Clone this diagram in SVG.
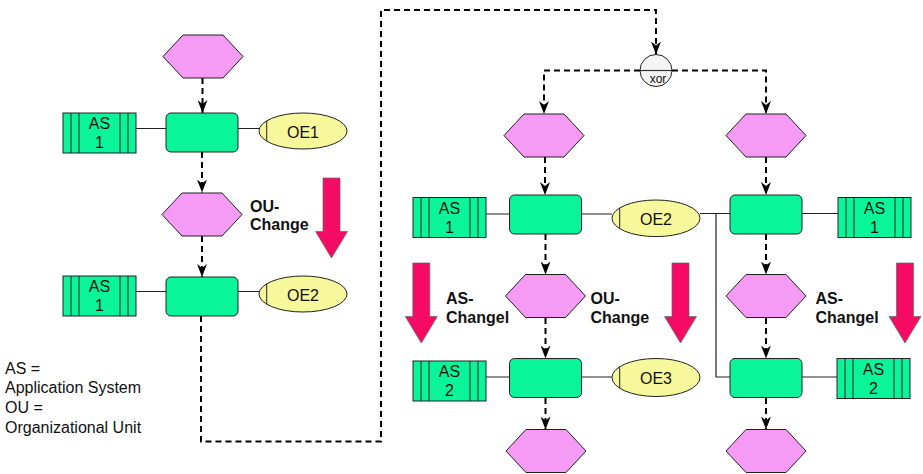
<svg xmlns="http://www.w3.org/2000/svg" xmlns:xlink="http://www.w3.org/1999/xlink" width="923" height="474" viewBox="0 0 923 474">
<style>
.hex{fill:#F59AF5;stroke:#222;stroke-width:1}
.fn{fill:#0AF59A;stroke:#222;stroke-width:1}
.as{fill:#0AF59A;stroke:#222;stroke-width:1}
.asl{stroke:#222;stroke-width:1}
.oe{fill:#F7F79C;stroke:#222;stroke-width:1}
.red{fill:#F50A64;stroke:#666;stroke-width:0.7}
.t{font-family:"Liberation Sans",Arial,sans-serif;font-size:16px;fill:#111}
.c{text-anchor:middle}
.b{font-weight:bold}
.solid{fill:none;stroke:#222;stroke-width:1.2}
.dash{fill:none;stroke:#000;stroke-width:2;stroke-dasharray:6,4;marker-end:url(#ah)}
</style>
<defs>
<marker id="ah" viewBox="0 0 13 10" refX="13" refY="5" markerWidth="13" markerHeight="10" markerUnits="userSpaceOnUse" orient="auto">
<path d="M0,0 L13,5 L0,10 L4,5 z" fill="#000"/>
</marker>
<polygon id="hexShape" class="hex" points="-40,0 -20,-21.5 20,-21.5 40,0 20,21.5 -20,21.5"/>
<polygon id="redArrow" class="red" points="-8.5,0 8.5,0 8.5,53.5 16,53.5 0,80 -16,53.5 -8.5,53.5"/>
<g id="asShape">
<rect class="as" x="0" y="0" width="73" height="40"/>
<line class="asl" x1="8" y1="0" x2="8" y2="40"/>
<line class="asl" x1="16" y1="0" x2="16" y2="40"/>
<line class="asl" x1="57" y1="0" x2="57" y2="40"/>
<line class="asl" x1="65" y1="0" x2="65" y2="40"/>
</g>
<rect id="fnShape" class="fn" x="0" y="0" width="72" height="39" rx="5"/>
</defs>
<rect width="923" height="474" fill="#fff"/>

<g id="connectors">
<path class="solid" d="M136,128.5 H166 M238,128.5 H259"/>
<path class="solid" d="M136,291.5 H166 M238,291.5 H259"/>
<path class="solid" d="M486,214 H509.5 M582,214 H612"/>
<path class="solid" d="M700,213.5 H730 M716,213.5 V377 H730 M802,213.5 H838"/>
<path class="solid" d="M486,377 H509.5 M582,377 H612 M802,377 H837"/>
<path class="dash" d="M202.5,78 V113"/>
<path class="dash" d="M202,152 V192.5"/>
<path class="dash" d="M202,236 V277"/>
<path class="dash" d="M201,316 V441.5 H381 V10 H656 V54.5"/>
<path class="dash" d="M640,70.5 H544 V114"/>
<path class="dash" d="M672,70.5 H766 V114"/>
<path class="dash" d="M545,157 V195"/>
<path class="dash" d="M545.5,234 V274.5"/>
<path class="dash" d="M545.5,318 V358.5"/>
<path class="dash" d="M545.5,398 V429.5"/>
<path class="dash" d="M766,157 V195"/>
<path class="dash" d="M766,234 V274.5"/>
<path class="dash" d="M766,318 V358.5"/>
<path class="dash" d="M766,398 V429.5"/>
</g>

<g id="evL1"><use href="#hexShape" x="203" y="56.5"/></g>
<g id="evL2"><use href="#hexShape" x="202" y="214.5"/>
<text class="t b" x="250" y="211.7">OU-</text><text class="t b" x="250" y="230">Change</text></g>
<g id="evM1"><use href="#hexShape" x="544" y="135.5"/></g>
<g id="evM2"><use href="#hexShape" x="545.5" y="296"/>
<text class="t b" x="590.5" y="304">OU-</text><text class="t b" x="590.5" y="323">Change</text></g>
<g id="evM3"><use href="#hexShape" x="546" y="451"/></g>
<g id="evR1"><use href="#hexShape" x="766" y="135.5"/></g>
<g id="evR2"><use href="#hexShape" x="766" y="296"/>
<text class="t b" x="815.5" y="304">AS-</text><text class="t b" x="815.5" y="323">Changel</text></g>
<g id="evR3"><use href="#hexShape" x="766" y="451"/></g>

<g id="fnL1"><use href="#fnShape" x="166" y="113"/></g>
<g id="fnL2"><use href="#fnShape" x="166" y="277"/></g>
<g id="fnM1"><use href="#fnShape" x="509.5" y="195"/></g>
<g id="fnM2"><use href="#fnShape" x="509.5" y="358.5"/></g>
<g id="fnR1"><use href="#fnShape" x="730" y="195"/></g>
<g id="fnR2"><use href="#fnShape" x="730" y="358.5"/></g>

<g id="asL1"><use href="#asShape" x="63" y="113"/>
<text class="t c" x="99.5" y="129">AS</text><text class="t c" x="99.5" y="148">1</text></g>
<g id="asL2"><use href="#asShape" x="63" y="276"/>
<text class="t c" x="99.5" y="292">AS</text><text class="t c" x="99.5" y="311">1</text></g>
<g id="asM1"><use href="#asShape" x="413" y="197.5"/>
<text class="t c" x="449.5" y="213.5">AS</text><text class="t c" x="449.5" y="232.5">1</text></g>
<g id="asM2"><use href="#asShape" x="413" y="361"/>
<text class="t c" x="449.5" y="377">AS</text><text class="t c" x="449.5" y="396">2</text></g>
<g id="asR1"><use href="#asShape" x="838" y="197.5"/>
<text class="t c" x="874.5" y="213.5">AS</text><text class="t c" x="874.5" y="232.5">1</text></g>
<g id="asR2"><use href="#asShape" x="837" y="358.5"/>
<text class="t c" x="873.5" y="374.5">AS</text><text class="t c" x="873.5" y="393.5">2</text></g>

<g id="oe1"><ellipse class="oe" cx="303" cy="131" rx="44" ry="18"/>
<line class="asl" x1="266.7" y1="121" x2="266.7" y2="141"/>
<text class="t c" x="303" y="137.5">OE1</text></g>
<g id="oe2L"><ellipse class="oe" cx="303" cy="294" rx="44" ry="18"/>
<line class="asl" x1="266.7" y1="284" x2="266.7" y2="304"/>
<text class="t c" x="303" y="300.5">OE2</text></g>
<g id="oe2M"><ellipse class="oe" cx="656" cy="218.3" rx="44" ry="18.3"/>
<line class="asl" x1="619.7" y1="208" x2="619.7" y2="228.6"/>
<text class="t c" x="656" y="224.5">OE2</text></g>
<g id="oe3"><ellipse class="oe" cx="656" cy="377.5" rx="44" ry="19"/>
<line class="asl" x1="619.7" y1="366.8" x2="619.7" y2="388.2"/>
<text class="t c" x="656" y="383.5">OE3</text></g>

<g id="xor">
<circle cx="656" cy="70.5" r="16" fill="#f4f4f4" stroke="#222" stroke-width="1"/>
<line x1="640" y1="70.5" x2="672" y2="70.5" stroke="#333" stroke-width="1.2"/>
<text x="658" y="83" font-family="Liberation Sans,Arial,sans-serif" font-size="12" text-anchor="middle" fill="#111">xor</text>
</g>

<g id="redArrows">
<use href="#redArrow" x="331.5" y="178"/>
<use href="#redArrow" x="421.3" y="263"/>
<use href="#redArrow" x="680.5" y="263"/>
<use href="#redArrow" x="905" y="263"/>
</g>
<g id="labelsMid">
<text class="t b" x="446" y="304">AS-</text><text class="t b" x="446" y="323">Changel</text>
</g>

<g id="legend">
<text class="t" x="5" y="374">AS =</text>
<text class="t" x="5" y="393.3">Application System</text>
<text class="t" x="5" y="413.3">OU =</text>
<text class="t" x="5" y="433.3">Organizational Unit</text>
</g>
</svg>
